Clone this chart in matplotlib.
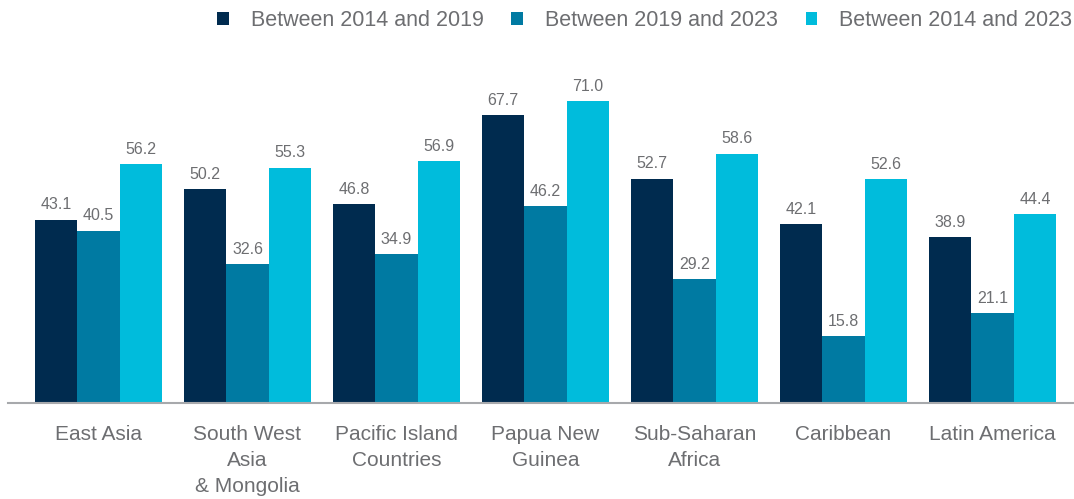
import matplotlib
matplotlib.use("Agg")
import matplotlib.pyplot as plt
import numpy as np

categories = ["East Asia", "South West\nAsia\n& Mongolia", "Pacific Island\nCountries",
              "Papua New\nGuinea", "Sub-Saharan\nAfrica", "Caribbean", "Latin America"]
series_names = ["Between 2014 and 2019", "Between 2019 and 2023", "Between 2014 and 2023"]
v_2014_2019 = [43.1, 50.2, 46.8, 67.7, 52.7, 42.1, 38.9]
v_2019_2023 = [40.5, 32.6, 34.9, 46.2, 29.2, 15.8, 21.1]
v_2014_2023 = [56.2, 55.3, 56.9, 71.0, 58.6, 52.6, 44.4]
colors = ["#002b4f", "#007aa2", "#00bcdc"]

text_grey = "#6d6e71"
plt.rcParams["font.family"] = ["Liberation Sans", "DejaVu Sans"]

fig = plt.figure(figsize=(10.74, 4.99), dpi=100)
ax = fig.add_axes([8 / 1074, 96 / 499, 1066 / 1074, 403 / 499])

x = np.arange(len(categories))
w = 0.285
handles = []
for i, (vals, col, name) in enumerate(zip([v_2014_2019, v_2019_2023, v_2014_2023], colors, series_names)):
    bars = ax.bar(x + (i - 1) * w, vals, width=w, color=col, label=name, linewidth=0)
    handles.append(bars)
    for xi, v in zip(x + (i - 1) * w, vals):
        ax.text(xi, v + 1.7, f"{v:.1f}", ha="center", va="bottom", fontsize=11.5, color=text_grey)

ax.set_xlim(-0.607, 6.547)
ax.set_ylim(0, 94.7)
for s in ["top", "right", "left"]:
    ax.spines[s].set_visible(False)
ax.spines["bottom"].set_color("#a7a9ac")
ax.spines["bottom"].set_linewidth(1.5)
ax.set_yticks([])
ax.set_xticks(x)
ax.set_xticklabels(categories, fontsize=15, color=text_grey, linespacing=1.46)
ax.tick_params(axis="x", length=0, pad=16)

fig.legend(handles=handles, labels=series_names, loc="upper right",
           bbox_to_anchor=(1072 / 1074, 1 - 10 / 499),
           ncol=3, frameon=False, fontsize=15.5, handlelength=0.55, handleheight=0.55,
           handletextpad=1.0, columnspacing=1.3, labelcolor=text_grey,
           borderaxespad=0, borderpad=0)

fig.savefig("out.png", dpi=100)
